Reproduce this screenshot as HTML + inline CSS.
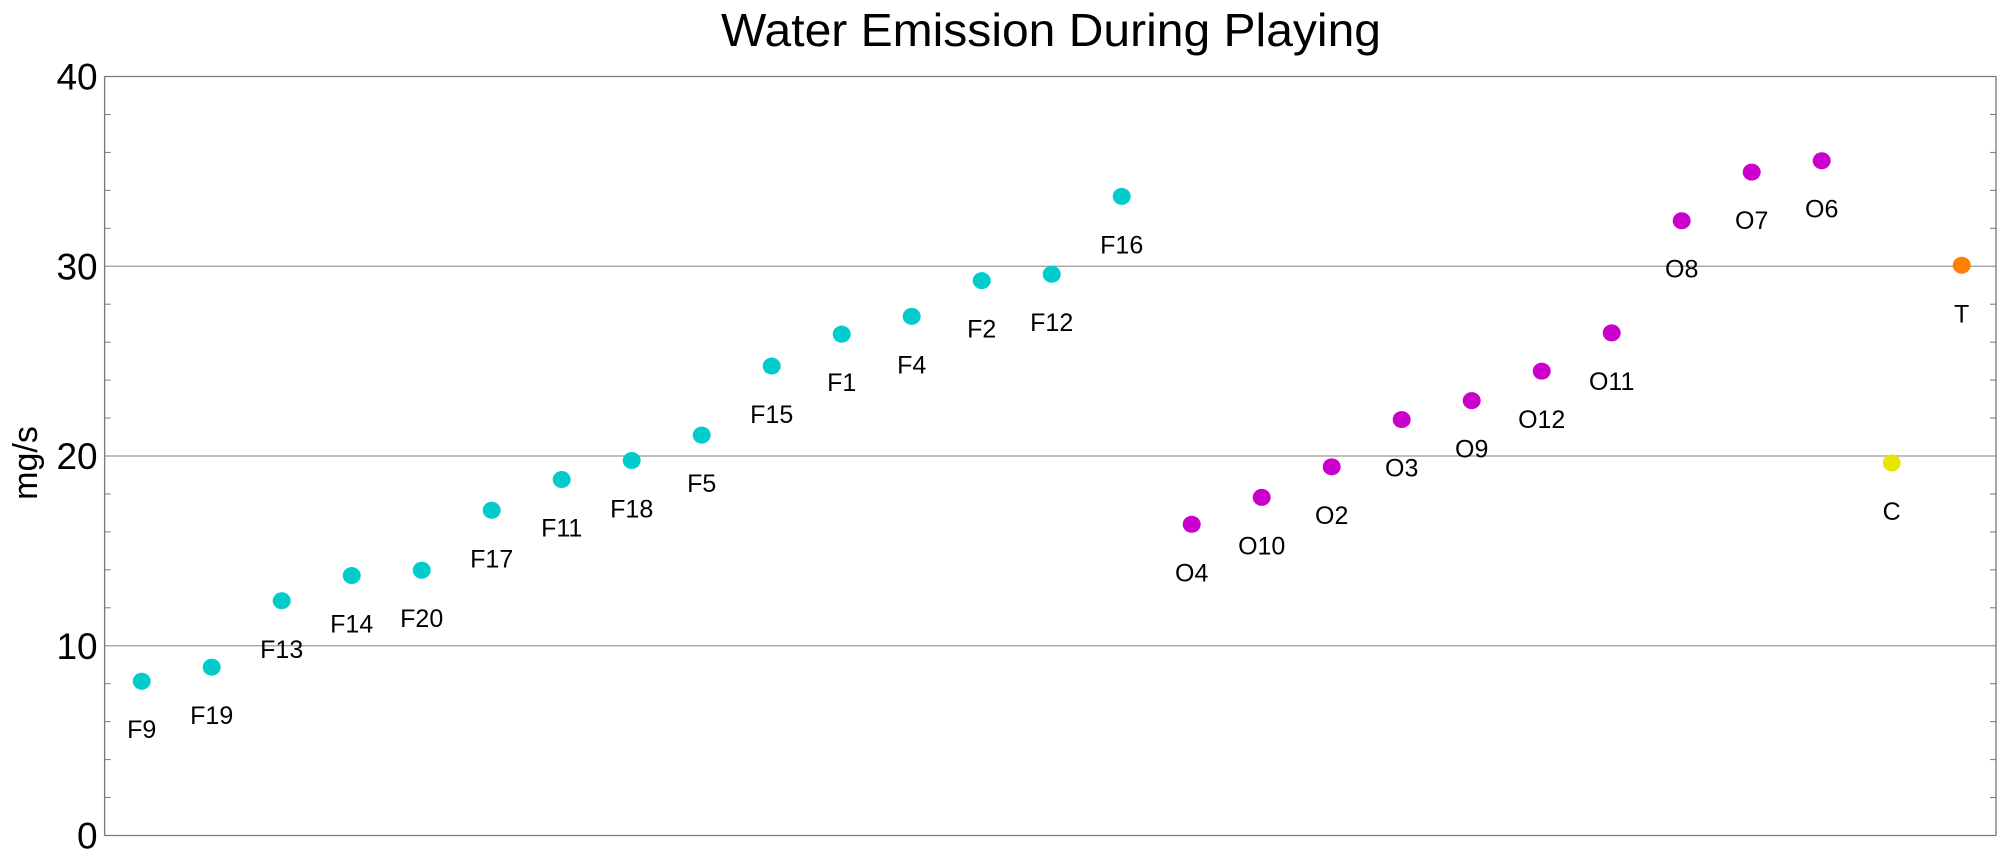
<!DOCTYPE html>
<html><head><meta charset="utf-8"><style>
html,body{margin:0;padding:0;background:#fff;}
svg{display:block;font-family:"Liberation Sans",sans-serif;}
</style></head><body>
<svg id="chart" width="2000" height="859" viewBox="0 0 2000 859">
<text x="1051" y="46" font-size="46" text-anchor="middle" textLength="660" lengthAdjust="spacingAndGlyphs">Water Emission During Playing</text>
<text transform="translate(37,463) rotate(-90)" font-size="34" text-anchor="middle">mg/s</text>
<g id="grid"></g><g id="axes"></g><g id="points"></g>
</svg>
<script>
const categories=["F9","F19","F13","F14","F20","F17","F11","F18","F5","F15","F1","F4","F2","F12","F16","O4","O10","O2","O3","O9","O12","O11","O8","O7","O6","C","T"];
const values=[8.13,8.87,12.37,13.7,13.98,17.14,18.76,19.76,21.1,24.74,26.42,27.36,29.24,29.58,33.68,16.4,17.82,19.43,21.92,22.92,24.47,26.49,32.4,34.96,35.56,19.63,30.05];
const groups=["F","F","F","F","F","F","F","F","F","F","F","F","F","F","F","O","O","O","O","O","O","O","O","O","O","C","T"];
const yTicks=[0,10,20,30,40];
const colors={F:"#00cccc",O:"#cc00cc",C:"#e6e600",T:"#ff8000"};
const L=104.6,R=1996,T=76.5,B=835.5;
const yScale=v=>B-(v/40)*(B-T);
const xScale=i=>L+(i+1-0.47)*((R-L)/27.02);
const NS="http://www.w3.org/2000/svg";
function mk(tag,attrs,parent){const e=document.createElementNS(NS,tag);for(const k in attrs)e.setAttribute(k,attrs[k]);parent.appendChild(e);return e;}
const grid=document.getElementById('grid'),axes=document.getElementById('axes'),pts=document.getElementById('points');
yTicks.forEach(t=>{
  const y=yScale(t);
  const ln=mk('line',{x1:L,x2:R,y1:y,y2:y,stroke:(t===0||t===40)?'#777':'#999','stroke-width':1.3},grid);
  
  
  const tx=mk('text',{x:L-7,y:y+13,'font-size':37,'text-anchor':'end'},axes);
  tx.textContent=t;
  
  
});
for(let v=2;v<40;v+=2){
  if(v%10===0)continue;
  const y=yScale(v);
  const a=mk('line',{x1:L,x2:L+6,y1:y,y2:y,stroke:'#777','stroke-width':1},axes);
  
  
  const b=mk('line',{x1:R-6,x2:R,y1:y,y2:y,stroke:'#777','stroke-width':1},axes);
  
  
}
const fl=mk('line',{x1:L,x2:L,y1:T,y2:B,stroke:'#777','stroke-width':1.3},axes);


const fr=mk('line',{x1:R,x2:R,y1:T,y2:B,stroke:'#777','stroke-width':1.3},axes);


categories.forEach((c,i)=>{
  const x=xScale(i),y=yScale(values[i]);
  const p=mk('ellipse',{cx:x,cy:y,rx:9,ry:8.5,fill:colors[groups[i]]},pts);
  
  
  const t=mk('text',{x:x,y:y+57,'font-size':25,'text-anchor':'middle'},pts);
  t.textContent=c;
  
  
});
</script>
</body></html>
